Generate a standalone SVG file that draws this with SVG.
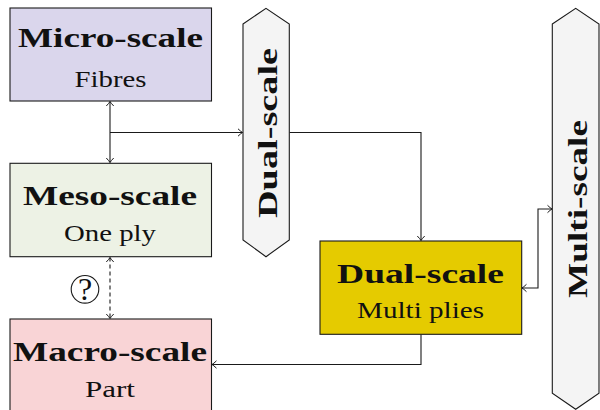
<svg xmlns="http://www.w3.org/2000/svg" width="600" height="410" viewBox="0 0 600 410">
  <defs>
    <marker id="arr" viewBox="-6 -5 7 10" refX="0" refY="0" markerWidth="7" markerHeight="10" markerUnits="userSpaceOnUse" orient="auto-start-reverse">
      <path d="M-4.2,-3.4 Q-1.6,-0.9 0,0 Q-1.6,0.9 -4.2,3.4" fill="none" stroke="#1a1a1a" stroke-width="1" stroke-linecap="round"/>
    </marker>
    <style>
      .box { stroke: #1a1a1a; stroke-width: 1.1; }
      .hex { fill: #f4f4f4; stroke: #1a1a1a; stroke-width: 1.1; }
      .title { font-family: "Liberation Serif", "Times New Roman", serif; font-weight: bold; font-size: 27.5px; fill: #111; text-anchor: middle; }
      .sub { font-family: "Liberation Serif", "Times New Roman", serif; font-size: 23px; fill: #111; text-anchor: middle; }
      .q { font-family: "Liberation Serif", "Times New Roman", serif; font-size: 32px; fill: #111; text-anchor: middle; }
      .conn { fill: none; stroke: #1a1a1a; stroke-width: 1.1; }
      .dash { stroke-dasharray: 4 3; }
    </style>
  </defs>

  <!-- connectors -->
  <g id="connectors">
    <line class="conn" x1="110" y1="101.5" x2="110" y2="162.5" marker-start="url(#arr)" marker-end="url(#arr)"/>
    <line class="conn" x1="110" y1="132.5" x2="242.5" y2="132.5" marker-end="url(#arr)"/>
    <polyline class="conn" points="289.5,132.5 421,132.5 421,240.5" marker-end="url(#arr)"/>
    <polyline class="conn" points="421,334.5 421,364.5 212,364.5" marker-end="url(#arr)"/>
    <polyline class="conn" points="522,288 538,288 538,209 552,209" marker-start="url(#arr)" marker-end="url(#arr)"/>
    <line class="conn dash" x1="110" y1="257.5" x2="110" y2="318.5" marker-start="url(#arr)" marker-end="url(#arr)"/>
    <circle cx="85" cy="289.3" r="13.8" fill="#fff" stroke="#1a1a1a" stroke-width="1.1"/>
    <text x="85" y="300" class="q">?</text>
  </g>

  <!-- micro-scale -->
  <g id="micro">
    <rect class="box" x="10" y="8" width="201.5" height="93" fill="#dad6ec"/>
    <text class="title" x="110.5" y="47" textLength="185" lengthAdjust="spacingAndGlyphs">Micro-scale</text>
    <text class="sub" x="110.5" y="87" textLength="72" lengthAdjust="spacingAndGlyphs">Fibres</text>
  </g>

  <!-- meso-scale -->
  <g id="meso">
    <rect class="box" x="10" y="163.3" width="201.5" height="93.4" fill="#edf2e5"/>
    <text class="title" x="110" y="205" textLength="174" lengthAdjust="spacingAndGlyphs">Meso-scale</text>
    <text class="sub" x="110" y="240.5" textLength="92" lengthAdjust="spacingAndGlyphs">One ply</text>
  </g>

  <!-- macro-scale -->
  <g id="macro">
    <rect class="box" x="10" y="319" width="201.5" height="95" fill="#f9d4d6"/>
    <text class="title" x="110" y="360.7" textLength="194" lengthAdjust="spacingAndGlyphs">Macro-scale</text>
    <text class="sub" x="110" y="397" textLength="50" lengthAdjust="spacingAndGlyphs">Part</text>
  </g>

  <!-- dual-scale, multi plies -->
  <g id="dual-box">
    <rect class="box" x="320" y="241" width="201.7" height="93.3" fill="#e5cb00"/>
    <text class="title" x="420.5" y="283.3" textLength="167" lengthAdjust="spacingAndGlyphs">Dual-scale</text>
    <text class="sub" x="420.5" y="317.7" textLength="127" lengthAdjust="spacingAndGlyphs">Multi plies</text>
  </g>

  <!-- dual-scale band -->
  <g id="dual-hex">
    <polygon class="hex" points="243,24 266,8.3 289.3,24 289.3,240 266,256.7 243,240"/>
    <text class="title" transform="translate(277,133) rotate(-90)" x="0" y="0" textLength="170" lengthAdjust="spacingAndGlyphs">Dual-scale</text>
  </g>

  <!-- multi-scale band -->
  <g id="multi-hex">
    <polygon class="hex" points="552.3,24 575.7,8.3 599,24 599,393.3 575.7,409.3 552.3,393.3"/>
    <text class="title" transform="translate(587,209) rotate(-90)" x="0" y="0" textLength="178" lengthAdjust="spacingAndGlyphs">Multi-scale</text>
  </g>
</svg>
